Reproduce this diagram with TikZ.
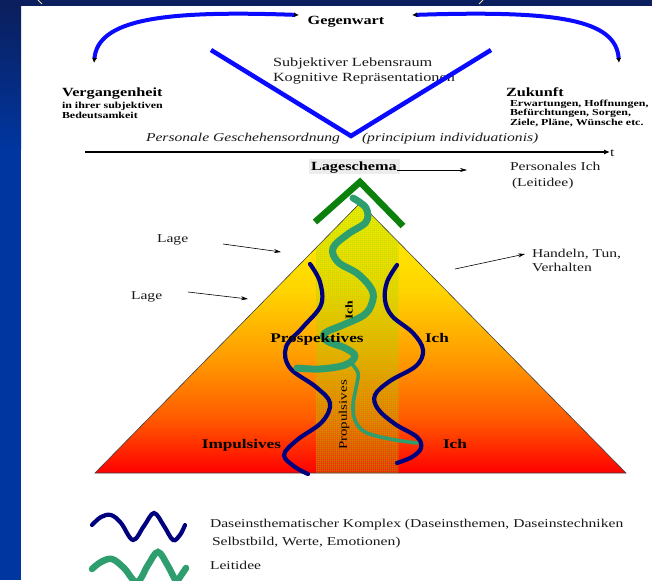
\documentclass[tikz,border=0pt]{standalone}
\usepackage{fontspec}
\setmainfont{Liberation Serif}[FakeStretch=1.3]
\usetikzlibrary{arrows.meta}

\definecolor{navyband}{HTML}{0B1F5E}
\definecolor{sideblue}{HTML}{0036A0}
\definecolor{arcblue}{HTML}{0A0AFF}
\definecolor{navywave}{HTML}{00007F}
\definecolor{chevgreen}{HTML}{0B800B}
\definecolor{leitgreen}{HTML}{2E9E6E}
\definecolor{txtgray}{HTML}{1A1A1A}
\definecolor{parencol}{HTML}{E8E4B0}
\definecolor{bandgreen}{HTML}{A0D800}
\definecolor{trA}{HTML}{FF0000}
\definecolor{trB}{HTML}{FF5A00}
\definecolor{trC}{HTML}{FF9A00}
\definecolor{trD}{HTML}{FFD500}
\definecolor{trE}{HTML}{FFF200}
\pgfdeclareverticalshading{triheat}{100bp}{color(0bp)=(trA); color(25bp)=(trA); color(35bp)=(trB); color(46bp)=(trC); color(59bp)=(trD); color(75bp)=(trE); color(100bp)=(trE)}

\begin{document}
\begin{tikzpicture}[x=1pt,y=-1pt,
  every node/.style={inner sep=0pt,outer sep=0pt},
  bigbold/.style={font=\fontsize{12.5}{14}\selectfont\bfseries},
  reg/.style={font=\fontsize{12}{14}\selectfont,text=txtgray},
  regbig/.style={font=\fontsize{12.5}{14}\selectfont,text=txtgray},
  regit/.style={font=\fontsize{12}{14}\selectfont\itshape,text=txtgray},
  smallbold/.style={font=\fontsize{9.2}{10}\selectfont\bfseries},
  tribold/.style={font=\fontsize{13.2}{15}\selectfont\bfseries},
  rotbold/.style={font=\fontsize{10.5}{12}\selectfont\bfseries,rotate=90},
  rotreg/.style={font=\fontsize{11.5}{13}\selectfont,rotate=90},
  arcline/.style={arcblue,line width=4pt},
  wavenavy/.style={navywave,line width=4.2pt,line cap=round},
  leit/.style={leitgreen,line width=7pt,line cap=round,line join=round},
  leitthin/.style={leitgreen,line width=3.6pt,line cap=round},
  thinarrow/.style={-{Stealth[length=7pt,width=4pt]},line width=0.6pt,black},
  tipblack/.style={{Latex[color=black,length=5pt,width=5pt]}-{Latex[color=black,length=5pt,width=5pt]}},
  gridln/.style={bandgreen,opacity=0.2,line width=0.6pt}
]
\useasboundingbox (0,0) rectangle (652,580);

% background
\fill[white] (0,0) rectangle (652,580);
\fill[navyband] (0,0) rectangle (652,6);
\shade[top color=navyband,bottom color=sideblue] (0,6) rectangle (21,150);
\fill[sideblue] (0,150) rectangle (21,580);
\draw[parencol,line width=1pt] (38,0) -- (42,4);
\draw[parencol,line width=1pt] (483,0) -- (479,4);

% top part
\node[bigbold,anchor=base] (gegen) at (346,25) {Gegenwart};
\coordinate (gL) at (299,15);
\coordinate (gR) at (412,15);
\coordinate (vergEnd) at (94,63);
\coordinate (zukEnd) at (619,63);
\draw[arcline,tipblack] (gL) .. controls (160,10) and (98,20) .. (vergEnd);
\draw[arcline,tipblack] (gR) .. controls (560,10) and (616,20) .. (zukEnd);

\node[regbig,anchor=base west] (subj) at (273,67) {Subjektiver Lebensraum};
\node[regbig,anchor=base west] (kogn) at (273,82) {Kognitive Repräsentationen};
\coordinate (vA) at (211,50);
\coordinate (vB) at (351,136);
\coordinate (vC) at (491,50);
\draw[arcblue,line width=4.5pt] (vA) -- (vB) -- (vC);

\node[bigbold,anchor=base west] (verg) at (62,97) {Vergangenheit};
\node[smallbold,anchor=base west] (verg1) at (62,109) {in ihrer subjektiven};
\node[smallbold,anchor=base west] (verg2) at (62,119) {Bedeutsamkeit};
\node[bigbold,anchor=base west] (zuk) at (506,97) {Zukunft};
\node[smallbold,anchor=base west] (zuk1) at (510,107) {Erwartungen, Hoffnungen,};
\node[smallbold,anchor=base west] (zuk2) at (510,116) {Befürchtungen, Sorgen,};
\node[smallbold,anchor=base west] (zuk3) at (510,126) {Ziele, Pläne, Wünsche etc.};

\node[regit,anchor=base west] (pers) at (146,142) {Personale Geschehensordnung};
\node[regit,anchor=base west] (princ) at (362,142) {(principium individuationis)};

\coordinate (axL) at (85,152);
\node[reg,anchor=base west] (tlab) at (610,157) {t};
\draw[-{Latex[length=6pt,width=5pt]},line width=1.1pt] (axL) -- (tlab.west |- axL);

% Lageschema
\fill[black!7] (309,159) rectangle (400,174);
\node[bigbold,anchor=base west] (lages) at (311,170) {Lageschema};
\coordinate (lagesTip) at (467,170);
\draw[thinarrow] (lages.base east) -- (lagesTip);
\node[reg,anchor=base west] (persich) at (510,170) {Personales Ich};
\node[reg,anchor=base west] (leitid) at (512,186) {(Leitidee)};

% triangle
\coordinate (tL) at (95,473);
\coordinate (tR) at (626,473);
\coordinate (tT) at (360,203);
\shade[shading=triheat] (tL) -- (tT) -- (tR) -- cycle;
\begin{scope}
  \clip (tL) -- (tT) -- (tR) -- cycle;
  \fill[bandgreen,opacity=0.16] (316,200) rectangle (398,476);
  \foreach \gx in {316,318,...,398} {\draw[gridln] (\gx,200) -- (\gx,476);}
  \foreach \gy in {200,202,...,476} {\draw[gridln] (316,\gy) -- (398,\gy);}
\end{scope}
\draw[black!75,line width=0.6pt] (tL) -- (tT) -- (tR) -- cycle;

% green chevron
\coordinate (cL) at (315,222);
\coordinate (cT) at (360,182);
\coordinate (cR) at (403,226);
\draw[chevgreen,line width=6.5pt] (cL) -- (cT) -- (cR);

% Lage arrows and Handeln
\node[reg,anchor=base west] (lage1) at (157,242) {Lage};
\node[reg,anchor=base west] (lage2) at (131,299) {Lage};
\coordinate (lage1s) at (223,244);
\coordinate (lage1t) at (281,252);
\coordinate (lage2s) at (188,292);
\coordinate (lage2t) at (248,299);
\draw[thinarrow] (lage1s) -- (lage1t);
\draw[thinarrow] (lage2s) -- (lage2t);
\node[reg,anchor=base west] (hand1) at (532,257) {Handeln, Tun,};
\node[reg,anchor=base west] (hand2) at (532,271) {Verhalten};
\coordinate (handS) at (455,269);
\coordinate (handT) at (525,254);
\draw[thinarrow] (handS) -- (handT);

% rotated text below the green line
\node[rotreg] (propul) at (344,415) {Propulsives};

% navy waves
\draw[wavenavy] plot[smooth,tension=0.6] coordinates {(310,264) (320,282) (321,305) (303,327) (286,347) (290,368) (316,387) (330,403) (322,422) (297,440) (284,455) (295,467) (308,474)};
\draw[wavenavy] plot[smooth,tension=0.6] coordinates {(397,265) (387,282) (385,300) (392,316) (413,333) (423,350) (416,366) (390,381) (375,395) (378,409) (395,424) (417,437) (421,448) (412,457) (397,463)};

% Leitidee line
\draw[leitthin] plot[smooth,tension=0.6] coordinates {(350,362) (358,373) (356,388) (353,405) (355,420) (365,432) (390,439) (417,443)};
\draw[leit] plot[smooth,tension=0.6] coordinates {(353,198) (366,208) (366,222) (348,234) (333,248) (338,262) (358,274) (372,290) (372,303) (364,315) (343,325) (325,333) (327,341) (345,348) (355,356) (345,365) (320,369) (297,368)};

% texts in triangle
\node[tribold,anchor=base] (prosp) at (317,342) {Prospektives};
\node[tribold,anchor=base west] (ich1) at (425,342) {Ich};
\node[tribold,anchor=base east] (impul) at (281,448) {Impulsives};
\node[tribold,anchor=base west] (ich2) at (443,448) {Ich};
\node[rotbold] (ichrot) at (349,310) {Ich};

% legend
\draw[wavenavy] plot[smooth,tension=0.6] coordinates {(92,525) (101,517) (111,515) (121,523) (133,540) (144,526) (154,513) (164,526) (173,540) (180,535) (185,525)};
\node[reg,anchor=base west] (leg1) at (210,527) {Daseinsthematischer Komplex (Daseinsthemen, Daseinstechniken};
\node[reg,anchor=base west] (leg2) at (212,545) {Selbstbild, Werte, Emotionen)};
\draw[leitgreen,line width=6.5pt,line cap=round] plot[smooth,tension=0.6] coordinates {(92,569) (101,562) (112,559) (124,568) (137,582) (148,565) (158,552) (168,566) (176,580) (182,574) (186,568)};
\node[reg,anchor=base west] (leg3) at (210,569) {Leitidee};
\end{tikzpicture}
\end{document}
